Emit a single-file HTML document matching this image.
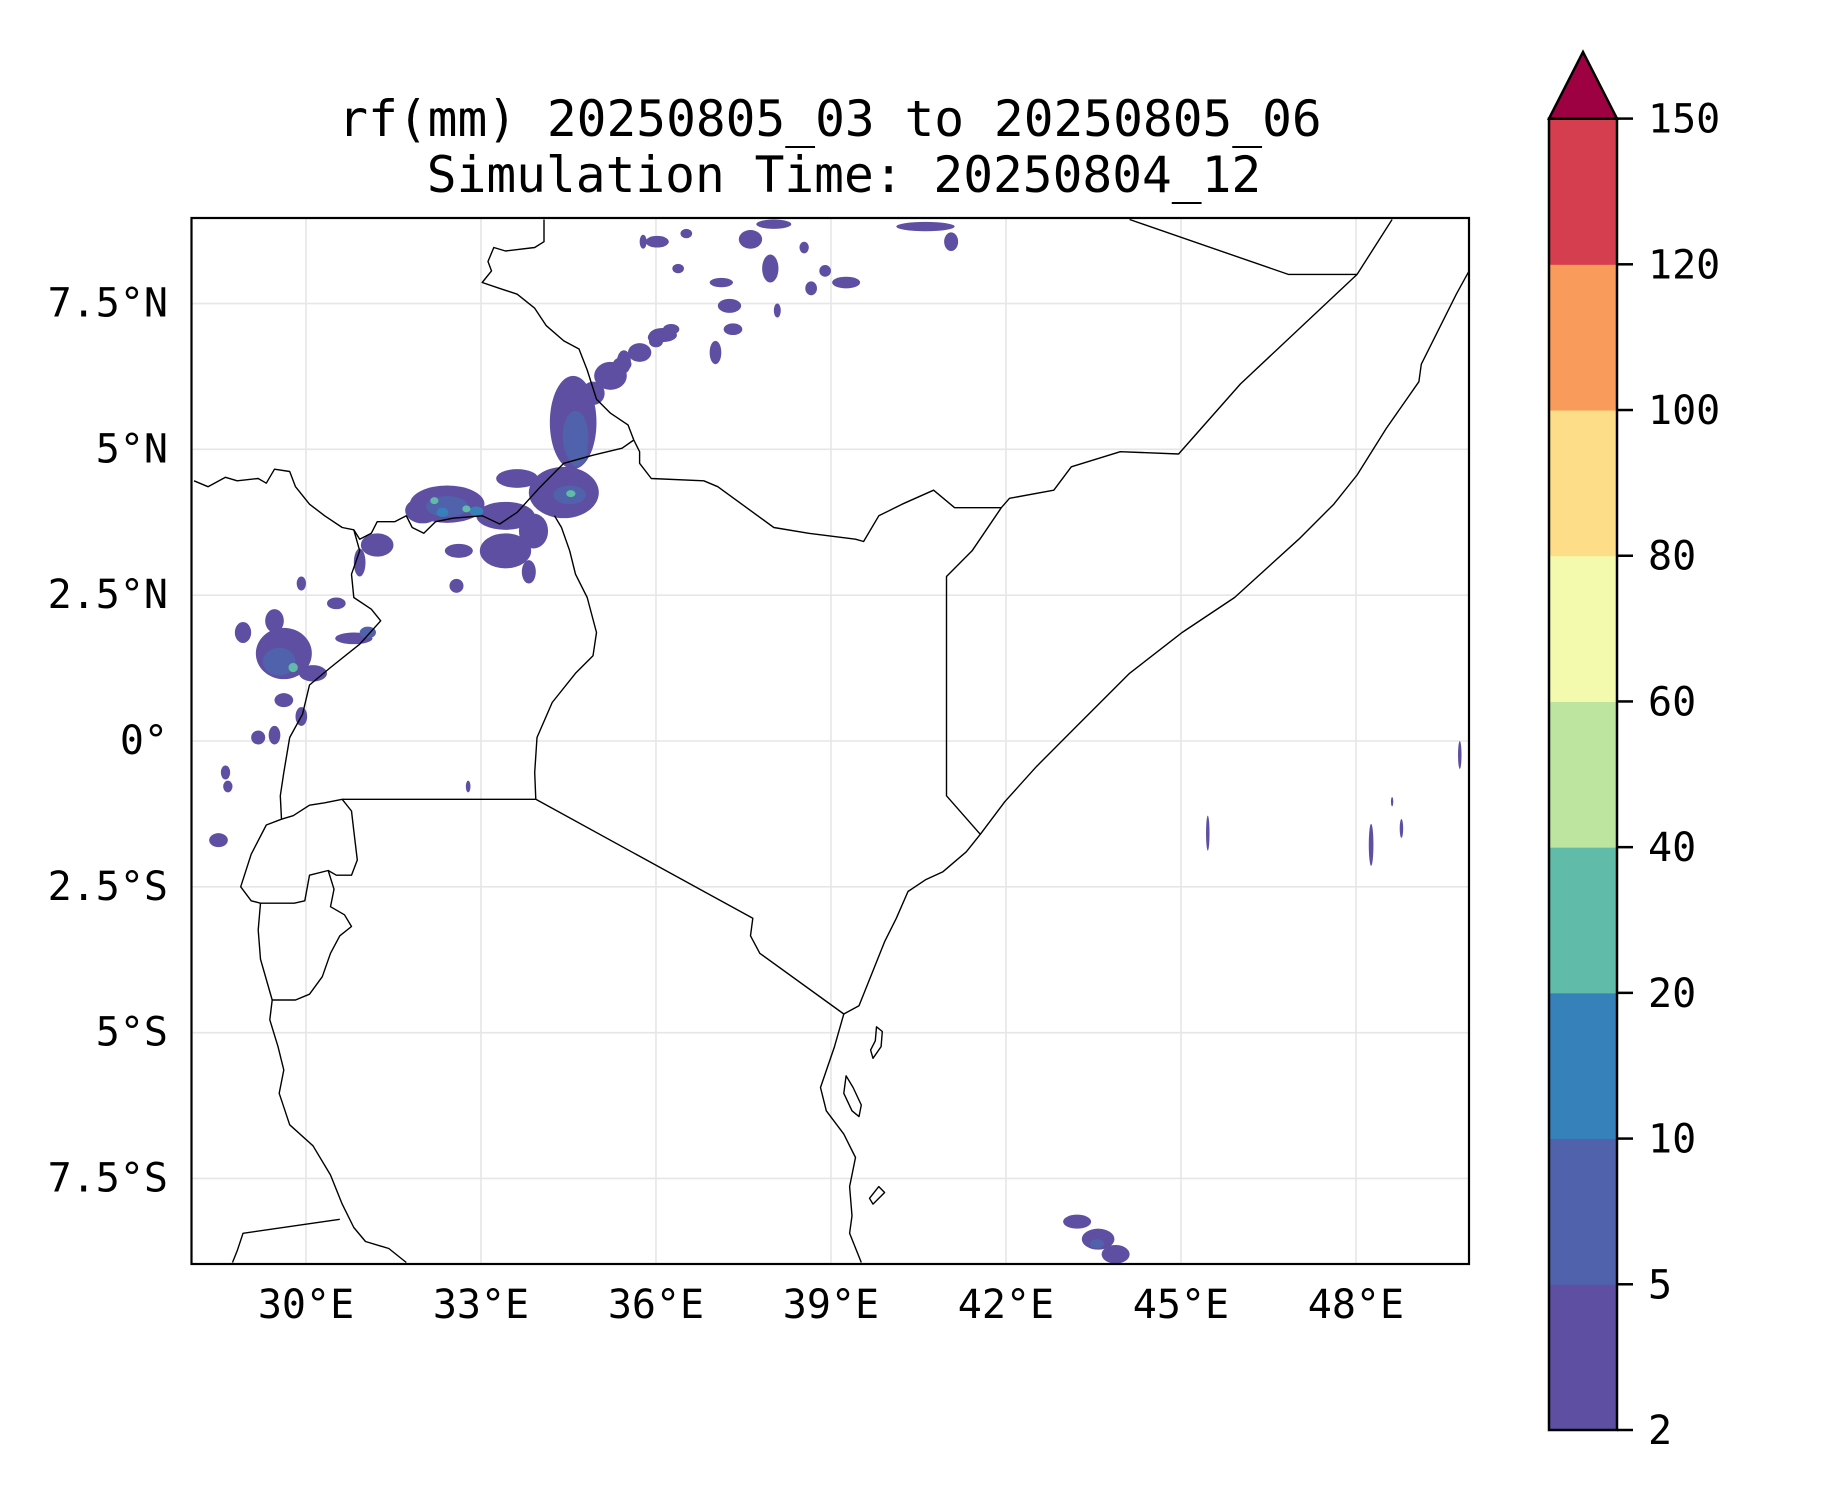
<!DOCTYPE html>
<html><head><meta charset="utf-8"><title>rf(mm) 20250805_03 to 20250805_06</title>
<style>
html,body{margin:0;padding:0;background:#fff;}
svg{display:block;font-family:"DejaVu Sans Mono","Liberation Mono",monospace;}
</style></head>
<body>
<svg id="fig" width="1833" height="1500" viewBox="0 0 1833 1500" xmlns="http://www.w3.org/2000/svg">
<rect x="0" y="0" width="1833" height="1500" fill="#fff"/>
<text x="830" y="136" font-size="49.5" text-anchor="middle">rf(mm) 20250805_03 to 20250805_06</text>
<text x="844" y="192" font-size="49.5" text-anchor="middle">Simulation Time: 20250804_12</text>
<defs><clipPath id="mapclip"><rect x="191.5" y="218" width="1277.5" height="1046"/></clipPath></defs>
<g id="grid"></g>
<g id="precip" clip-path="url(#mapclip)"></g>
<g id="borders" clip-path="url(#mapclip)"></g>
<rect x="191.5" y="218" width="1277.5" height="1046" fill="none" stroke="#000" stroke-width="2.2"/>
<g id="xticks"></g>
<g id="yticks"></g>
<g id="cbar"></g>
</svg>
<script>
// ---- axis data ----
const lonTicks = [30, 33, 36, 39, 42, 45, 48];
const lonTickLabels = ["30°E", "33°E", "36°E", "39°E", "42°E", "45°E", "48°E"];
const latTicks = [7.5, 5, 2.5, 0, -2.5, -5, -7.5];
const latTickLabels = ["7.5°N", "5°N", "2.5°N", "0°", "2.5°S", "5°S", "7.5°S"];
// ---- colorbar data ----
const levels = [2, 5, 10, 20, 40, 60, 80, 100, 120, 150];
const levelLabels = ["2", "5", "10", "20", "40", "60", "80", "100", "120", "150"];
const levelColors = ["#5e4fa2", "#4f62ab", "#3781ba", "#60bba8", "#bee5a0", "#f3faad", "#fddd87", "#f99b5a", "#d53e4f"];
const overColor = "#9e0142";
// ---- rainfall cells: lon, lat, half-width(deg), half-height(deg), rainfall(mm) ----
const cellLon = [34.58,34.62,35.22,35.72,36.12,34.92,32.42,32.42,32.34,33.42,32.92,33.62,34.42,34.52,34.54,33.42,33.82,32.62,32.58,31.22,30.92,29.62,29.54,29.78,29.46,28.92,30.12,29.92,29.62,30.82,31.06,30.52,29.92,29.18,29.46,28.62,28.66,28.5,36.02,35.78,36.38,37.12,37.26,37.02,37.32,37.96,37.62,38.02,38.54,38.66,38.90,39.26,38.08,40.62,41.06,36.52,43.22,43.58,43.88,43.56,49.78,45.46,48.26,48.78,48.62,32.78,32.2,32.75,34.65,35.45,36.0,35.12,35.42,35.72,36.02,36.26,33.9,32.0];
const cellLat = [5.46,5.22,6.26,6.66,6.96,5.96,4.06,4.02,3.92,3.86,3.94,4.50,4.26,4.22,4.24,3.26,2.90,3.26,2.66,3.36,3.06,1.50,1.36,1.26,2.06,1.86,1.16,0.42,0.70,1.76,1.86,2.36,2.70,0.06,0.10,-0.54,-0.78,-1.70,8.56,8.56,8.10,7.86,7.46,6.66,7.06,8.10,8.60,8.86,8.46,7.76,8.06,7.86,7.38,8.82,8.56,8.70,-8.24,-8.54,-8.80,-8.62,-0.24,-1.58,-1.78,-1.50,-1.04,-0.78,4.12,3.98,5.0,6.5,6.85,6.26,6.46,6.70,6.92,7.06,3.6,3.95];
const cellRx = [0.40,0.22,0.28,0.20,0.24,0.20,0.64,0.36,0.10,0.50,0.12,0.36,0.60,0.28,0.08,0.44,0.12,0.24,0.12,0.28,0.10,0.48,0.28,0.08,0.16,0.14,0.24,0.10,0.16,0.32,0.14,0.16,0.08,0.12,0.10,0.08,0.08,0.16,0.20,0.06,0.10,0.20,0.20,0.10,0.16,0.14,0.20,0.30,0.08,0.10,0.10,0.24,0.06,0.50,0.12,0.10,0.24,0.28,0.24,0.12,0.03,0.03,0.04,0.03,0.02,0.04,0.07,0.07,0.18,0.12,0.12,0.16,0.16,0.16,0.16,0.14,0.25,0.3];
const cellRy = [0.80,0.44,0.24,0.16,0.12,0.20,0.32,0.18,0.08,0.24,0.08,0.16,0.44,0.16,0.06,0.30,0.20,0.12,0.12,0.20,0.24,0.44,0.24,0.08,0.20,0.18,0.14,0.16,0.12,0.10,0.10,0.10,0.12,0.12,0.16,0.12,0.10,0.12,0.10,0.12,0.08,0.08,0.12,0.20,0.10,0.24,0.16,0.08,0.10,0.12,0.10,0.10,0.12,0.08,0.16,0.08,0.12,0.18,0.16,0.08,0.24,0.30,0.36,0.16,0.08,0.10,0.06,0.06,0.3,0.2,0.1,0.12,0.12,0.12,0.11,0.09,0.3,0.22];
const cellVal = [3,7,3,3,3,3,3,7,15,3,15,3,3,7,25,3,3,3,3,3,3,3,7,25,3,3,3,3,3,3,7,3,3,3,3,3,3,3,3,3,3,3,3,3,3,3,3,3,3,3,3,3,3,3,3,3,3,3,3,7,3,3,3,3,3,3,25,25,7,3,3,3,3,3,3,3,3,3];
// ---- basemap polylines (lon/lat) ----
const lines = [
 {name:"south-sudan-uganda-border", pts:[[28.08,4.46],[28.32,4.36],[28.62,4.52],[28.82,4.46],[29.18,4.50],[29.32,4.42],[29.46,4.66],[29.72,4.62],[29.82,4.36],[30.06,4.06],[30.32,3.86],[30.62,3.66],[30.82,3.62],[30.92,3.46],[31.12,3.56],[31.22,3.76],[31.52,3.76],[31.72,3.86],[31.82,3.66],[32.02,3.56],[32.22,3.76],[32.52,3.82],[33.02,3.86],[33.32,3.72],[33.62,3.92],[34.02,4.36],[34.42,4.76],[34.92,4.90],[35.42,5.02],[35.62,5.16]]},
 {name:"kenya-ethiopia-border", pts:[[35.62,5.16],[35.72,4.96],[35.72,4.76],[35.92,4.50],[36.82,4.46],[37.06,4.36],[38.02,3.66],[38.62,3.56],[39.42,3.46],[39.56,3.42],[39.82,3.86],[40.22,4.06],[40.76,4.30],[41.12,4.0],[41.92,4.0]]},
 {name:"kenya-somalia-border", pts:[[41.92,4.0],[41.42,3.26],[40.98,2.82],[40.98,-0.94],[41.56,-1.6]]},
 {name:"ethiopia-somalia-border", pts:[[41.92,4.0],[42.06,4.16],[42.82,4.30],[43.12,4.70],[43.96,4.96],[44.96,4.92],[46.02,6.12],[48.02,8.0],[48.62,8.94]]},
 {name:"somaliland-border", pts:[[44.12,8.94],[46.84,8.0],[48.02,8.0]]},
 {name:"horn-coastline", pts:[[49.94,8.06],[49.72,7.66],[49.42,7.06],[49.12,6.46],[49.08,6.16],[48.52,5.36],[48.02,4.56],[47.62,4.06],[47.02,3.46],[45.92,2.46],[45.02,1.86],[44.12,1.16],[43.22,0.26],[42.52,-0.44],[41.98,-1.04],[41.56,-1.60],[41.32,-1.90],[40.92,-2.24],[40.62,-2.38],[40.32,-2.58],[40.12,-3.04],[39.92,-3.44],[39.72,-3.94],[39.48,-4.54],[39.22,-4.68],[39.06,-5.24],[38.82,-5.94],[38.92,-6.34],[39.22,-6.74],[39.42,-7.14],[39.32,-7.64],[39.36,-8.14],[39.32,-8.44],[39.52,-8.94]]},
 {name:"kenya-tanzania-border", pts:[[33.94,-1.0],[37.66,-3.04],[37.62,-3.34],[37.78,-3.64],[39.22,-4.68]]},
 {name:"uganda-tanzania-border", pts:[[30.62,-1.0],[33.94,-1.0]]},
 {name:"uganda-kenya-border", pts:[[33.94,-1.0],[33.92,-0.54],[33.96,0.06],[34.22,0.66],[34.62,1.16],[34.92,1.46],[34.98,1.86],[34.82,2.46],[34.62,2.86],[34.52,3.26],[34.38,3.66],[34.26,3.86]]},
 {name:"drc-eastern-border", pts:[[30.82,3.62],[30.92,3.26],[30.78,2.86],[30.82,2.46],[31.12,2.26],[31.28,2.06],[30.92,1.66],[30.42,1.26],[30.06,0.96],[29.94,0.46],[29.72,0.06],[29.62,-0.54],[29.56,-0.94],[29.58,-1.34],[29.32,-1.44],[29.06,-1.94],[28.88,-2.5],[29.06,-2.74],[29.22,-2.78],[29.18,-3.24],[29.22,-3.74],[29.42,-4.44],[29.38,-4.78],[29.52,-5.24],[29.62,-5.64],[29.54,-6.04],[29.72,-6.58],[30.12,-6.94],[30.42,-7.44],[30.62,-7.94],[30.82,-8.34],[31.02,-8.58],[31.42,-8.70],[31.72,-8.94]]},
 {name:"rwanda-border", pts:[[29.58,-1.34],[29.78,-1.28],[30.06,-1.10],[30.32,-1.06],[30.62,-1.0],[30.78,-1.2],[30.82,-1.54],[30.88,-2.04],[30.78,-2.30],[30.52,-2.30],[30.38,-2.22],[30.06,-2.30],[29.98,-2.74],[29.80,-2.78],[29.22,-2.78]]},
 {name:"burundi-border", pts:[[30.38,-2.22],[30.48,-2.54],[30.42,-2.84],[30.66,-2.98],[30.78,-3.18],[30.58,-3.34],[30.42,-3.64],[30.28,-4.04],[30.06,-4.34],[29.82,-4.44],[29.42,-4.44]]},
 {name:"zambia-border", pts:[[28.74,-8.94],[28.82,-8.74],[28.92,-8.44],[30.58,-8.2]]},
 {name:"sudan-ethiopia-border", pts:[[34.08,8.94],[34.08,8.56],[33.92,8.46],[33.42,8.40],[33.22,8.46],[33.12,8.22],[33.18,8.06],[33.02,7.86],[33.32,7.76],[33.62,7.66],[33.92,7.42],[34.12,7.12],[34.42,6.86],[34.68,6.72],[34.82,6.36],[34.98,5.86],[35.22,5.62],[35.52,5.42],[35.62,5.16]]},
 {name:"pemba-island", closed:true, pts:[[39.78,-4.9],[39.88,-4.98],[39.86,-5.24],[39.72,-5.44],[39.68,-5.3],[39.76,-5.14]]},
 {name:"zanzibar-island", closed:true, pts:[[39.26,-5.74],[39.38,-5.94],[39.52,-6.24],[39.48,-6.44],[39.36,-6.34],[39.22,-6.04]]},
 {name:"mafia-island", closed:true, pts:[[39.82,-7.64],[39.92,-7.74],[39.72,-7.94],[39.66,-7.84]]}
];

const NS = "http://www.w3.org/2000/svg";
const X0 = 191.5, X1 = 1469, Y0 = 218, Y1 = 1264;
const PPD = 58.33;
function xScale(lon){ return 306 + (lon - 30) * PPD; }
function yScale(lat){ return 741 - lat * PPD; }
const CB_TOP = 118.6, CB_BOT = 1430, CB_L = 1549, CB_R = 1617;
function cbY(i){ return CB_BOT - i * (CB_BOT - CB_TOP) / (levels.length - 1); }
function colorFor(v){
  for (let i = levels.length - 2; i >= 0; i--) if (v >= levels[i]) return levelColors[i];
  return null;
}
function mk(tag, attrs, parent){
  const el = document.createElementNS(NS, tag);
  for (const k in attrs) el.setAttribute(k, attrs[k]);
  parent.appendChild(el);
  return el;
}

const grid = document.getElementById('grid');
lonTicks.forEach(function(lon){
  const l = mk('line', {x1:xScale(lon), x2:xScale(lon), y1:Y0, y2:Y1, stroke:'#e6e6e6', 'stroke-width':1.6}, grid);
  
  
});
latTicks.forEach(function(lat){
  const l = mk('line', {x1:X0, x2:X1, y1:yScale(lat), y2:yScale(lat), stroke:'#e6e6e6', 'stroke-width':1.6}, grid);
  
  
});

const precip = document.getElementById('precip');
const order = cellVal.map(function(v,i){return i;}).sort(function(a,b){return cellVal[a]-cellVal[b];});
order.forEach(function(i){
  const c = colorFor(cellVal[i]);
  if (!c) return;
  const e = mk('ellipse', {cx:xScale(cellLon[i]), cy:yScale(cellLat[i]), rx:cellRx[i]*PPD, ry:cellRy[i]*PPD, fill:c}, precip);
  
  
});

const borders = document.getElementById('borders');
lines.forEach(function(ln){
  const d = ln.pts.map(function(p,j){return (j?'L':'M') + xScale(p[0]).toFixed(1) + ' ' + yScale(p[1]).toFixed(1);}).join(' ') + (ln.closed ? ' Z' : '');
  const p = mk('path', {d:d, fill:'none', stroke:'#000', 'stroke-width':1.4, 'stroke-linejoin':'round'}, borders);
  
  
});

const xt = document.getElementById('xticks');
lonTicks.forEach(function(lon, i){
  const t = mk('text', {x:xScale(lon), y:1318, 'font-size':40, 'text-anchor':'middle'}, xt);
  t.textContent = lonTickLabels[i];
  
  
});
const yt = document.getElementById('yticks');
latTicks.forEach(function(lat, i){
  const t = mk('text', {x:168, y:yScale(lat)+13, 'font-size':40, 'text-anchor':'end'}, yt);
  t.textContent = latTickLabels[i];
  
  
});

const cb = document.getElementById('cbar');
for (let i = 0; i < levels.length - 1; i++){
  const r = mk('rect', {x:CB_L, y:cbY(i+1), width:CB_R-CB_L, height:cbY(i)-cbY(i+1)+0.5, fill:levelColors[i]}, cb);
  
  
}
const tri = mk('path', {d:'M'+CB_L+' '+CB_TOP+' L'+((CB_L+CB_R)/2)+' 52 L'+CB_R+' '+CB_TOP+' Z', fill:overColor, stroke:'#000', 'stroke-width':2.5, 'stroke-linejoin':'miter'}, cb);


const cbo = mk('rect', {x:CB_L, y:CB_TOP, width:CB_R-CB_L, height:CB_BOT-CB_TOP, fill:'none', stroke:'#000', 'stroke-width':2.5}, cb);


levels.forEach(function(v, i){
  const y = cbY(i);
  const tk = mk('line', {x1:CB_R, x2:CB_R+16, y1:y, y2:y, stroke:'#000', 'stroke-width':2.5}, cb);
  
  
  const t = mk('text', {x:1648, y:y+14, 'font-size':40}, cb);
  t.textContent = levelLabels[i];
  
  
});
</script>
</body></html>
